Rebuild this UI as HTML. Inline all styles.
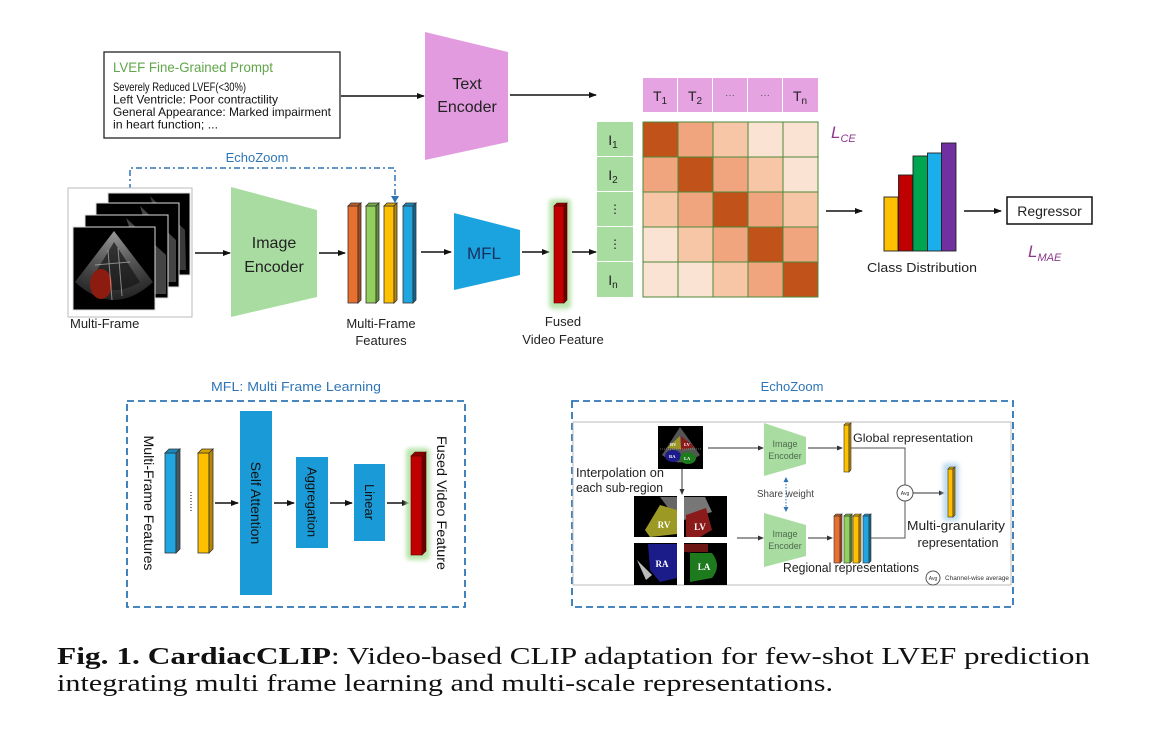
<!DOCTYPE html>
<html><head><meta charset="utf-8"><style>
html,body{margin:0;padding:0;background:#fff;}
svg{display:block;}
text{font-family:"Liberation Sans",sans-serif;}
text.serif{font-family:"Liberation Serif",serif;}
</style></head><body>
<svg width="1150" height="736" viewBox="0 0 1150 736" xmlns="http://www.w3.org/2000/svg">
<defs>
<marker id="ah" markerWidth="8" markerHeight="8" refX="7" refY="4" orient="auto" markerUnits="userSpaceOnUse">
<path d="M0,1 L8,4 L0,7 z" fill="#111"/>
</marker>
<marker id="ahs" markerWidth="6" markerHeight="6" refX="5" refY="3" orient="auto" markerUnits="userSpaceOnUse">
<path d="M0,0.5 L6,3 L0,5.5 z" fill="#333"/>
</marker>
<marker id="ahbs" markerWidth="5" markerHeight="5" refX="4" refY="2.5" orient="auto-start-reverse" markerUnits="userSpaceOnUse">
<path d="M0,0 L5,2.5 L0,5 z" fill="#2e75b6"/>
</marker>
<filter id="blur2" x="-50%" y="-20%" width="200%" height="140%"><feGaussianBlur stdDeviation="2"/></filter>
<radialGradient id="cone" cx="0.5" cy="0" r="1">
<stop offset="0" stop-color="#999"/><stop offset="0.5" stop-color="#555"/><stop offset="1" stop-color="#222"/>
</radialGradient>
</defs>

<!-- Prompt box -->
<rect x="104" y="52" width="236" height="86" fill="#fff" stroke="#222" stroke-width="1.3"/>
<text x="113" y="72" font-size="14" fill="#62a64a" textLength="160" lengthAdjust="spacingAndGlyphs">LVEF Fine-Grained Prompt</text>
<text x="113" y="91" font-size="12" fill="#111" textLength="133" lengthAdjust="spacingAndGlyphs">Severely Reduced LVEF(&lt;30%)</text>
<text x="113" y="103.5" font-size="12" fill="#111" textLength="165" lengthAdjust="spacingAndGlyphs">Left Ventricle: Poor contractility</text>
<text x="113" y="116" font-size="12" fill="#111" textLength="218" lengthAdjust="spacingAndGlyphs">General Appearance: Marked impairment</text>
<text x="113" y="128.5" font-size="12" fill="#111" textLength="105" lengthAdjust="spacingAndGlyphs">in heart function; ...</text>
<line x1="341" y1="96" x2="424" y2="96" stroke="#111" stroke-width="1.5" marker-end="url(#ah)"/>

<!-- Text encoder -->
<polygon points="425,32 508,52 508,142 425,160" fill="#e39be0"/>
<text x="467" y="89" font-size="16" fill="#222" text-anchor="middle">Text</text>
<text x="467" y="112" font-size="16" fill="#222" text-anchor="middle">Encoder</text>
<line x1="510" y1="95" x2="596" y2="95" stroke="#111" stroke-width="1.5" marker-end="url(#ah)"/>

<!-- T header -->
<g fill="#e6a3e2">
<rect x="643" y="78" width="34" height="34"/><rect x="678" y="78" width="34" height="34"/><rect x="713" y="78" width="34" height="34"/><rect x="748" y="78" width="34" height="34"/><rect x="783" y="78" width="35" height="34"/>
</g>
<g font-size="14" fill="#222" text-anchor="middle">
<text x="660" y="101">T<tspan font-size="10" dy="3">1</tspan></text>
<text x="695" y="101">T<tspan font-size="10" dy="3">2</tspan></text>
<text x="730" y="98" font-size="10" fill="#555">···</text>
<text x="765" y="98" font-size="10" fill="#555">···</text>
<text x="800" y="101">T<tspan font-size="10" dy="3">n</tspan></text>
</g>

<!-- I column -->
<g fill="#a9dca1">
<rect x="597" y="122" width="36" height="34"/><rect x="597" y="157" width="36" height="34"/><rect x="597" y="192" width="36" height="34"/><rect x="597" y="227" width="36" height="34"/><rect x="597" y="262" width="36" height="35"/>
</g>
<g font-size="14" fill="#222" text-anchor="middle">
<text x="613" y="145">I<tspan font-size="10" dy="3">1</tspan></text>
<text x="613" y="180">I<tspan font-size="10" dy="3">2</tspan></text>
<text x="615" y="213" font-size="12">⋮</text>
<text x="615" y="248" font-size="12">⋮</text>
<text x="613" y="285">I<tspan font-size="10" dy="3">n</tspan></text>
</g>

<!-- Matrix -->
<g stroke="#4d8a3a" stroke-width="1">
<rect x="643" y="122" width="35" height="35" fill="#c0521a"/><rect x="678" y="122" width="35" height="35" fill="#f0a57e"/><rect x="713" y="122" width="35" height="35" fill="#f7c6a6"/><rect x="748" y="122" width="35" height="35" fill="#fbe3d3"/><rect x="783" y="122" width="35" height="35" fill="#fbe3d3"/>
<rect x="643" y="157" width="35" height="35" fill="#f0a57e"/><rect x="678" y="157" width="35" height="35" fill="#c0521a"/><rect x="713" y="157" width="35" height="35" fill="#f0a57e"/><rect x="748" y="157" width="35" height="35" fill="#f7c6a6"/><rect x="783" y="157" width="35" height="35" fill="#fbe3d3"/>
<rect x="643" y="192" width="35" height="35" fill="#f7c6a6"/><rect x="678" y="192" width="35" height="35" fill="#f0a57e"/><rect x="713" y="192" width="35" height="35" fill="#c0521a"/><rect x="748" y="192" width="35" height="35" fill="#f0a57e"/><rect x="783" y="192" width="35" height="35" fill="#f7c6a6"/>
<rect x="643" y="227" width="35" height="35" fill="#fbe3d3"/><rect x="678" y="227" width="35" height="35" fill="#f7c6a6"/><rect x="713" y="227" width="35" height="35" fill="#f0a57e"/><rect x="748" y="227" width="35" height="35" fill="#c0521a"/><rect x="783" y="227" width="35" height="35" fill="#f0a57e"/>
<rect x="643" y="262" width="35" height="35" fill="#fbe3d3"/><rect x="678" y="262" width="35" height="35" fill="#fbe3d3"/><rect x="713" y="262" width="35" height="35" fill="#f7c6a6"/><rect x="748" y="262" width="35" height="35" fill="#f0a57e"/><rect x="783" y="262" width="35" height="35" fill="#c0521a"/>
</g>
<text x="831" y="138" font-size="17" font-style="italic" fill="#8e3a8e">L<tspan font-size="11" dy="4">CE</tspan></text>

<line x1="826" y1="211" x2="862" y2="211" stroke="#111" stroke-width="1.5" marker-end="url(#ah)"/>

<!-- Class distribution -->
<g stroke="#222" stroke-width="0.9">
<rect x="884" y="197" width="14" height="54" fill="#ffc000"/>
<rect x="898.5" y="175" width="14" height="76" fill="#c00000"/>
<rect x="913" y="156" width="14.5" height="95" fill="#00a550"/>
<rect x="927.5" y="153" width="14" height="98" fill="#1aaeea"/>
<rect x="941.5" y="143" width="14.5" height="108" fill="#7030a0"/>
</g>
<text x="922" y="272" font-size="13" fill="#222" text-anchor="middle" textLength="110" lengthAdjust="spacingAndGlyphs">Class Distribution</text>
<line x1="964" y1="211" x2="1001" y2="211" stroke="#111" stroke-width="1.5" marker-end="url(#ah)"/>
<rect x="1007" y="197" width="85" height="27" fill="#fff" stroke="#111" stroke-width="1.5"/>
<text x="1049.5" y="216" font-size="14" fill="#222" text-anchor="middle">Regressor</text>
<text x="1028" y="257" font-size="17" font-style="italic" fill="#8e3a8e">L<tspan font-size="11" dy="4">MAE</tspan></text>

<!-- EchoZoom dash-dot -->
<text x="257" y="162" font-size="13" fill="#2e75b6" text-anchor="middle">EchoZoom</text>
<path d="M130,190 V168 H395 V196" fill="none" stroke="#2e75b6" stroke-width="1.5" stroke-dasharray="6,3,2,3"/>
<path d="M391,196 L399,196 L395,203 z" fill="#2e75b6"/>

<!-- Multi-frame images -->
<rect x="68" y="188" width="124" height="129" fill="#fff" stroke="#bbb" stroke-width="1"/>
<rect x="108" y="193" width="82" height="82" fill="#000" stroke="#ddd" stroke-width="1"/>
<path d="M150,196 L185,230 L186,270 L172,270 Z" fill="#3a3a3a"/>
<rect x="96" y="203" width="83" height="84" fill="#000" stroke="#ddd" stroke-width="1"/>
<path d="M140,206 L176,240 L176,282 L162,282 Z" fill="#444"/>
<rect x="85" y="215" width="83" height="83" fill="#000" stroke="#ddd" stroke-width="1"/>
<path d="M126,218 L166,255 L166,294 L152,294 Z" fill="#444"/>
<rect x="73" y="227" width="82" height="83" fill="#000" stroke="#ddd" stroke-width="1"/>
<path d="M114,231 L75,282 Q114,318 153,282 Z" fill="url(#cone)"/>
<path d="M114,242 L90,282 Q114,298 140,282 Z" fill="#151515" opacity="0.7"/>
<ellipse cx="101" cy="284" rx="11" ry="15" fill="#8d1c10"/>
<path d="M108,250 L112,300 M118,248 L122,296 M95,265 L130,262" stroke="#ccc" stroke-width="1" opacity="0.6"/>
<text x="70" y="328" font-size="13" fill="#222">Multi-Frame</text>

<line x1="195" y1="253" x2="230" y2="253" stroke="#111" stroke-width="1.5" marker-end="url(#ah)"/>
<polygon points="231,187 317,210 317,297 231,317" fill="#a9dca1"/>
<text x="274" y="248" font-size="16" fill="#222" text-anchor="middle">Image</text>
<text x="274" y="272" font-size="16" fill="#222" text-anchor="middle">Encoder</text>
<line x1="319" y1="253" x2="345" y2="253" stroke="#111" stroke-width="1.5" marker-end="url(#ah)"/>

<!-- Feature bars -->
<g stroke="#333" stroke-width="0.8">
<rect x="348" y="206" width="10" height="97" fill="#e8702f"/><polygon points="348,206 351,203 361,203 358,206" fill="#c25a22"/><polygon points="358,206 361,203 361,300 358,303" fill="#a44a1a"/>
<rect x="366" y="206" width="10" height="97" fill="#92cf5c"/><polygon points="366,206 369,203 379,203 376,206" fill="#74ad43"/><polygon points="376,206 379,203 379,300 376,303" fill="#5e8f33"/>
<rect x="384" y="206" width="10" height="97" fill="#ffc000"/><polygon points="384,206 387,203 397,203 394,206" fill="#d9a200"/><polygon points="394,206 397,203 397,300 394,303" fill="#b88600"/>
<rect x="403" y="206" width="10" height="97" fill="#1fa5e0"/><polygon points="403,206 406,203 416,203 413,206" fill="#1788bb"/><polygon points="413,206 416,203 416,300 413,303" fill="#11668f"/>
</g>
<text x="381" y="328" font-size="13" fill="#222" text-anchor="middle">Multi-Frame</text>
<text x="381" y="345" font-size="13" fill="#222" text-anchor="middle">Features</text>

<line x1="421" y1="252" x2="451" y2="252" stroke="#111" stroke-width="1.5" marker-end="url(#ah)"/>
<polygon points="454,213 520,230 520,275 454,290" fill="#1ba3e0"/>
<text x="484" y="259" font-size="17" fill="#1b2f5c" text-anchor="middle">MFL</text>
<line x1="522" y1="252" x2="549" y2="252" stroke="#111" stroke-width="1.5" marker-end="url(#ah)"/>

<rect x="549" y="199" width="22" height="110" rx="4" fill="#b9e4ad" filter="url(#blur2)"/>
<g stroke="#5a0000" stroke-width="0.6">
<rect x="554" y="206" width="10" height="97" fill="#c00000"/><polygon points="554,206 557,203 567,203 564,206" fill="#8a0000"/><polygon points="564,206 567,203 567,300 564,303" fill="#6a0000"/>
</g>
<line x1="572" y1="252" x2="596" y2="252" stroke="#111" stroke-width="1.5" marker-end="url(#ah)"/>
<text x="563" y="326" font-size="13" fill="#222" text-anchor="middle">Fused</text>
<text x="563" y="344" font-size="13" fill="#222" text-anchor="middle">Video Feature</text>

<!-- MFL panel -->
<text x="296" y="391" font-size="13" fill="#2e75b6" text-anchor="middle" textLength="170" lengthAdjust="spacingAndGlyphs">MFL: Multi Frame Learning</text>
<rect x="127" y="401" width="338" height="206" fill="none" stroke="#2e75b6" stroke-width="1.8" stroke-dasharray="7,4"/>
<text transform="translate(149,503) rotate(90)" font-size="14" fill="#111" text-anchor="middle" dominant-baseline="central" textLength="135" lengthAdjust="spacingAndGlyphs">Multi-Frame Features</text>
<g stroke="#333" stroke-width="0.8">
<rect x="165" y="453" width="11" height="100" fill="#1fa5e0"/><polygon points="165,453 169,449 180,449 176,453" fill="#1788bb"/><polygon points="176,453 180,449 180,549 176,553" fill="#3f5a66"/>
<rect x="198" y="453" width="11" height="100" fill="#ffc000"/><polygon points="198,453 202,449 213,449 209,453" fill="#d9a200"/><polygon points="209,453 213,449 213,549 209,553" fill="#b88600"/>
</g>
<line x1="191" y1="492" x2="191" y2="512" stroke="#333" stroke-width="1.2" stroke-dasharray="1,2"/>
<line x1="215" y1="503" x2="238" y2="503" stroke="#111" stroke-width="1.5" marker-end="url(#ah)"/>
<rect x="240" y="411" width="32" height="184" fill="#1a9bd7"/>
<text transform="translate(256,503) rotate(90)" font-size="14" fill="#111" text-anchor="middle" dominant-baseline="central">Self Attention</text>
<line x1="274" y1="503" x2="294" y2="503" stroke="#111" stroke-width="1.5" marker-end="url(#ah)"/>
<rect x="296" y="457" width="32" height="91" fill="#1a9bd7"/>
<text transform="translate(312,502) rotate(90)" font-size="13" fill="#111" text-anchor="middle" dominant-baseline="central">Aggregation</text>
<line x1="330" y1="503" x2="352" y2="503" stroke="#111" stroke-width="1.5" marker-end="url(#ah)"/>
<rect x="354" y="464" width="31" height="77" fill="#1a9bd7"/>
<text transform="translate(369.5,502) rotate(90)" font-size="13" fill="#111" text-anchor="middle" dominant-baseline="central">Linear</text>
<line x1="387" y1="503" x2="409" y2="503" stroke="#111" stroke-width="1.5" marker-end="url(#ah)"/>
<rect x="406" y="448" width="24" height="112" rx="4" fill="#b9e4ad" filter="url(#blur2)"/>
<g stroke="#5a0000" stroke-width="0.6">
<rect x="411" y="456" width="11" height="99" fill="#c00000"/><polygon points="411,456 415,452 426,452 422,456" fill="#8a0000"/><polygon points="422,456 426,452 426,551 422,555" fill="#6a0000"/>
</g>
<text transform="translate(442,503) rotate(90)" font-size="14" fill="#111" text-anchor="middle" dominant-baseline="central" textLength="134" lengthAdjust="spacingAndGlyphs">Fused  Video Feature</text>

<!-- EchoZoom panel -->
<text x="792" y="391" font-size="13" fill="#2e75b6" text-anchor="middle">EchoZoom</text>
<rect x="572" y="401" width="441" height="206" fill="none" stroke="#2e75b6" stroke-width="1.8" stroke-dasharray="7,4"/>
<rect x="573" y="422" width="438" height="163" fill="none" stroke="#bbb" stroke-width="1"/>

<!-- top heart image -->
<rect x="658" y="426" width="45" height="43" fill="#000"/>
<path d="M680,427 L662,455 Q680,470 700,455 Z" fill="#555"/>
<path d="M667,448 L680,436 L681,449 Z" fill="#9a9624"/>
<path d="M681,436 L695,447 L681,450 Z" fill="#8b1b1b"/>
<ellipse cx="673" cy="456" rx="8" ry="6" fill="#1b1b8a"/>
<ellipse cx="688" cy="458" rx="8" ry="6" fill="#1d7a1d"/>
<line x1="660" y1="449" x2="701" y2="449" stroke="#cc9" stroke-width="0.5" stroke-dasharray="1,1"/>
<g font-size="4.5" fill="#fff" font-weight="bold">
<text class="serif" x="670" y="446">RV</text><text class="serif" x="684" y="446">LV</text><text class="serif" x="669" y="458">RA</text><text class="serif" x="684" y="460">LA</text>
</g>

<line x1="708" y1="448" x2="763" y2="448" stroke="#333" stroke-width="1" marker-end="url(#ahs)"/>
<polygon points="764,423 806,437 806,464 764,476" fill="#a9dca1"/>
<text x="785" y="447" font-size="9" fill="#4d6b4d" text-anchor="middle">Image</text>
<text x="785" y="459" font-size="9" fill="#4d6b4d" text-anchor="middle">Encoder</text>
<line x1="808" y1="448" x2="842" y2="448" stroke="#333" stroke-width="1" marker-end="url(#ahs)"/>
<g stroke="#333" stroke-width="0.6">
<rect x="844" y="425" width="5" height="47" fill="#ffc000"/><polygon points="844,425 846,423 851,423 849,425" fill="#d9a200"/><polygon points="849,425 851,423 851,470 849,472" fill="#b88600"/>
</g>
<text x="853" y="442" font-size="12" fill="#222" textLength="120" lengthAdjust="spacingAndGlyphs">Global representation</text>
<path d="M851,448 H905 V485" fill="none" stroke="#555" stroke-width="1"/>
<circle cx="905" cy="493" r="8" fill="#fff" stroke="#555" stroke-width="1"/>
<text x="905" y="495" font-size="5" fill="#333" text-anchor="middle">Avg</text>
<line x1="913" y1="493" x2="944" y2="493" stroke="#333" stroke-width="1" marker-end="url(#ahs)"/>
<rect x="943" y="463" width="16" height="58" rx="3" fill="#bfdcef" filter="url(#blur2)"/>
<g stroke="#333" stroke-width="0.6">
<rect x="948" y="469" width="5" height="48" fill="#ffc000"/><polygon points="948,469 950,467 955,467 953,469" fill="#d9a200"/><polygon points="953,469 955,467 955,515 953,517" fill="#b88600"/>
</g>
<text x="956" y="530" font-size="13" fill="#222" text-anchor="middle" textLength="98" lengthAdjust="spacingAndGlyphs">Multi-granularity</text>
<text x="958" y="547" font-size="13" fill="#222" text-anchor="middle" textLength="81" lengthAdjust="spacingAndGlyphs">representation</text>

<g stroke="#333" stroke-width="0.6">
<rect x="834" y="516" width="6" height="47" fill="#e8702f"/><polygon points="834,516 836,514 842,514 840,516" fill="#c25a22"/><polygon points="840,516 842,514 842,561 840,563" fill="#a44a1a"/>
<rect x="844" y="516" width="6" height="47" fill="#92cf5c"/><polygon points="844,516 846,514 852,514 850,516" fill="#74ad43"/><polygon points="850,516 852,514 852,561 850,563" fill="#5e8f33"/>
<rect x="853" y="516" width="6" height="47" fill="#ffc000"/><polygon points="853,516 855,514 861,514 859,516" fill="#d9a200"/><polygon points="859,516 861,514 861,561 859,563" fill="#b88600"/>
<rect x="863" y="516" width="6" height="47" fill="#1fa5e0"/><polygon points="863,516 865,514 871,514 869,516" fill="#1788bb"/><polygon points="869,516 871,514 871,561 869,563" fill="#11668f"/>
</g>
<path d="M871,538 H905 V501" fill="none" stroke="#555" stroke-width="1"/>
<line x1="808" y1="538" x2="832" y2="538" stroke="#333" stroke-width="1" marker-end="url(#ahs)"/>
<polygon points="764,513 806,525 806,556 764,567" fill="#a9dca1"/>
<text x="785" y="537" font-size="9" fill="#4d6b4d" text-anchor="middle">Image</text>
<text x="785" y="549" font-size="9" fill="#4d6b4d" text-anchor="middle">Encoder</text>
<line x1="737" y1="538" x2="763" y2="538" stroke="#333" stroke-width="1" marker-end="url(#ahs)"/>
<line x1="786" y1="478" x2="786" y2="511" stroke="#2e75b6" stroke-width="1" stroke-dasharray="1.5,1.5" marker-start="url(#ahbs)" marker-end="url(#ahbs)"/>
<text x="757" y="497" font-size="10.5" fill="#444" textLength="57" lengthAdjust="spacingAndGlyphs">Share weight</text>
<line x1="682" y1="469" x2="682" y2="494" stroke="#333" stroke-width="1" marker-end="url(#ahs)"/>
<text x="576" y="477" font-size="12.5" fill="#222" textLength="88" lengthAdjust="spacingAndGlyphs">Interpolation on</text>
<text x="576" y="492" font-size="12.5" fill="#222" textLength="87" lengthAdjust="spacingAndGlyphs">each sub-region</text>

<!-- sub-region images -->
<rect x="634" y="496" width="43" height="41" fill="#000"/>
<path d="M660,497 L677,497 L677,520 Z" fill="#666"/>
<path d="M645,530 L660,505 L677,510 L677,534 L650,537 Z" fill="#9c9a24"/>
<text class="serif" x="664" y="528" font-size="9" fill="#fff" font-weight="bold" text-anchor="middle">RV</text>
<rect x="684" y="496" width="43" height="41" fill="#000"/>
<path d="M684,497 L705,497 L712,512 L684,520 Z" fill="#777"/>
<path d="M686,515 L706,508 L712,530 L700,537 L686,537 Z" fill="#8b1b1b"/>
<text class="serif" x="700" y="530" font-size="9" fill="#fff" font-weight="bold" text-anchor="middle">LV</text>
<rect x="634" y="543" width="43" height="42" fill="#000"/>
<path d="M648,544 L677,544 L677,578 L660,582 L650,570 Z" fill="#1b1b8a"/>
<path d="M637,560 L652,575 L646,580 Z" fill="#bbb"/>
<text class="serif" x="662" y="567" font-size="9" fill="#fff" font-weight="bold" text-anchor="middle">RA</text>
<rect x="684" y="543" width="43" height="42" fill="#000"/>
<path d="M684,544 L708,544 L708,552 L684,552 Z" fill="#6b1515"/>
<path d="M690,553 L712,553 Q722,566 712,578 L690,582 Z" fill="#1d7a1d"/>
<text class="serif" x="704" y="570" font-size="9" fill="#fff" font-weight="bold" text-anchor="middle">LA</text>

<text x="783" y="572" font-size="12.5" fill="#222" textLength="136" lengthAdjust="spacingAndGlyphs">Regional representations</text>
<circle cx="933" cy="578" r="7" fill="#fff" stroke="#555" stroke-width="1"/>
<text x="933" y="580" font-size="5" fill="#333" text-anchor="middle">Avg</text>
<text x="945" y="580" font-size="6" fill="#333" textLength="64" lengthAdjust="spacingAndGlyphs">Channel-wise average</text>

<!-- Caption -->
<text class="serif" x="57" y="664" font-size="24" font-weight="bold" fill="#111" textLength="274" lengthAdjust="spacingAndGlyphs">Fig. 1. CardiacCLIP</text>
<text class="serif" x="331" y="664" font-size="24" fill="#111" textLength="759" lengthAdjust="spacingAndGlyphs">: Video-based CLIP adaptation for few-shot LVEF prediction</text>
<text class="serif" x="57" y="691" font-size="24" fill="#111" textLength="776" lengthAdjust="spacingAndGlyphs">integrating multi frame learning and multi-scale representations.</text>
</svg>
</body></html>
